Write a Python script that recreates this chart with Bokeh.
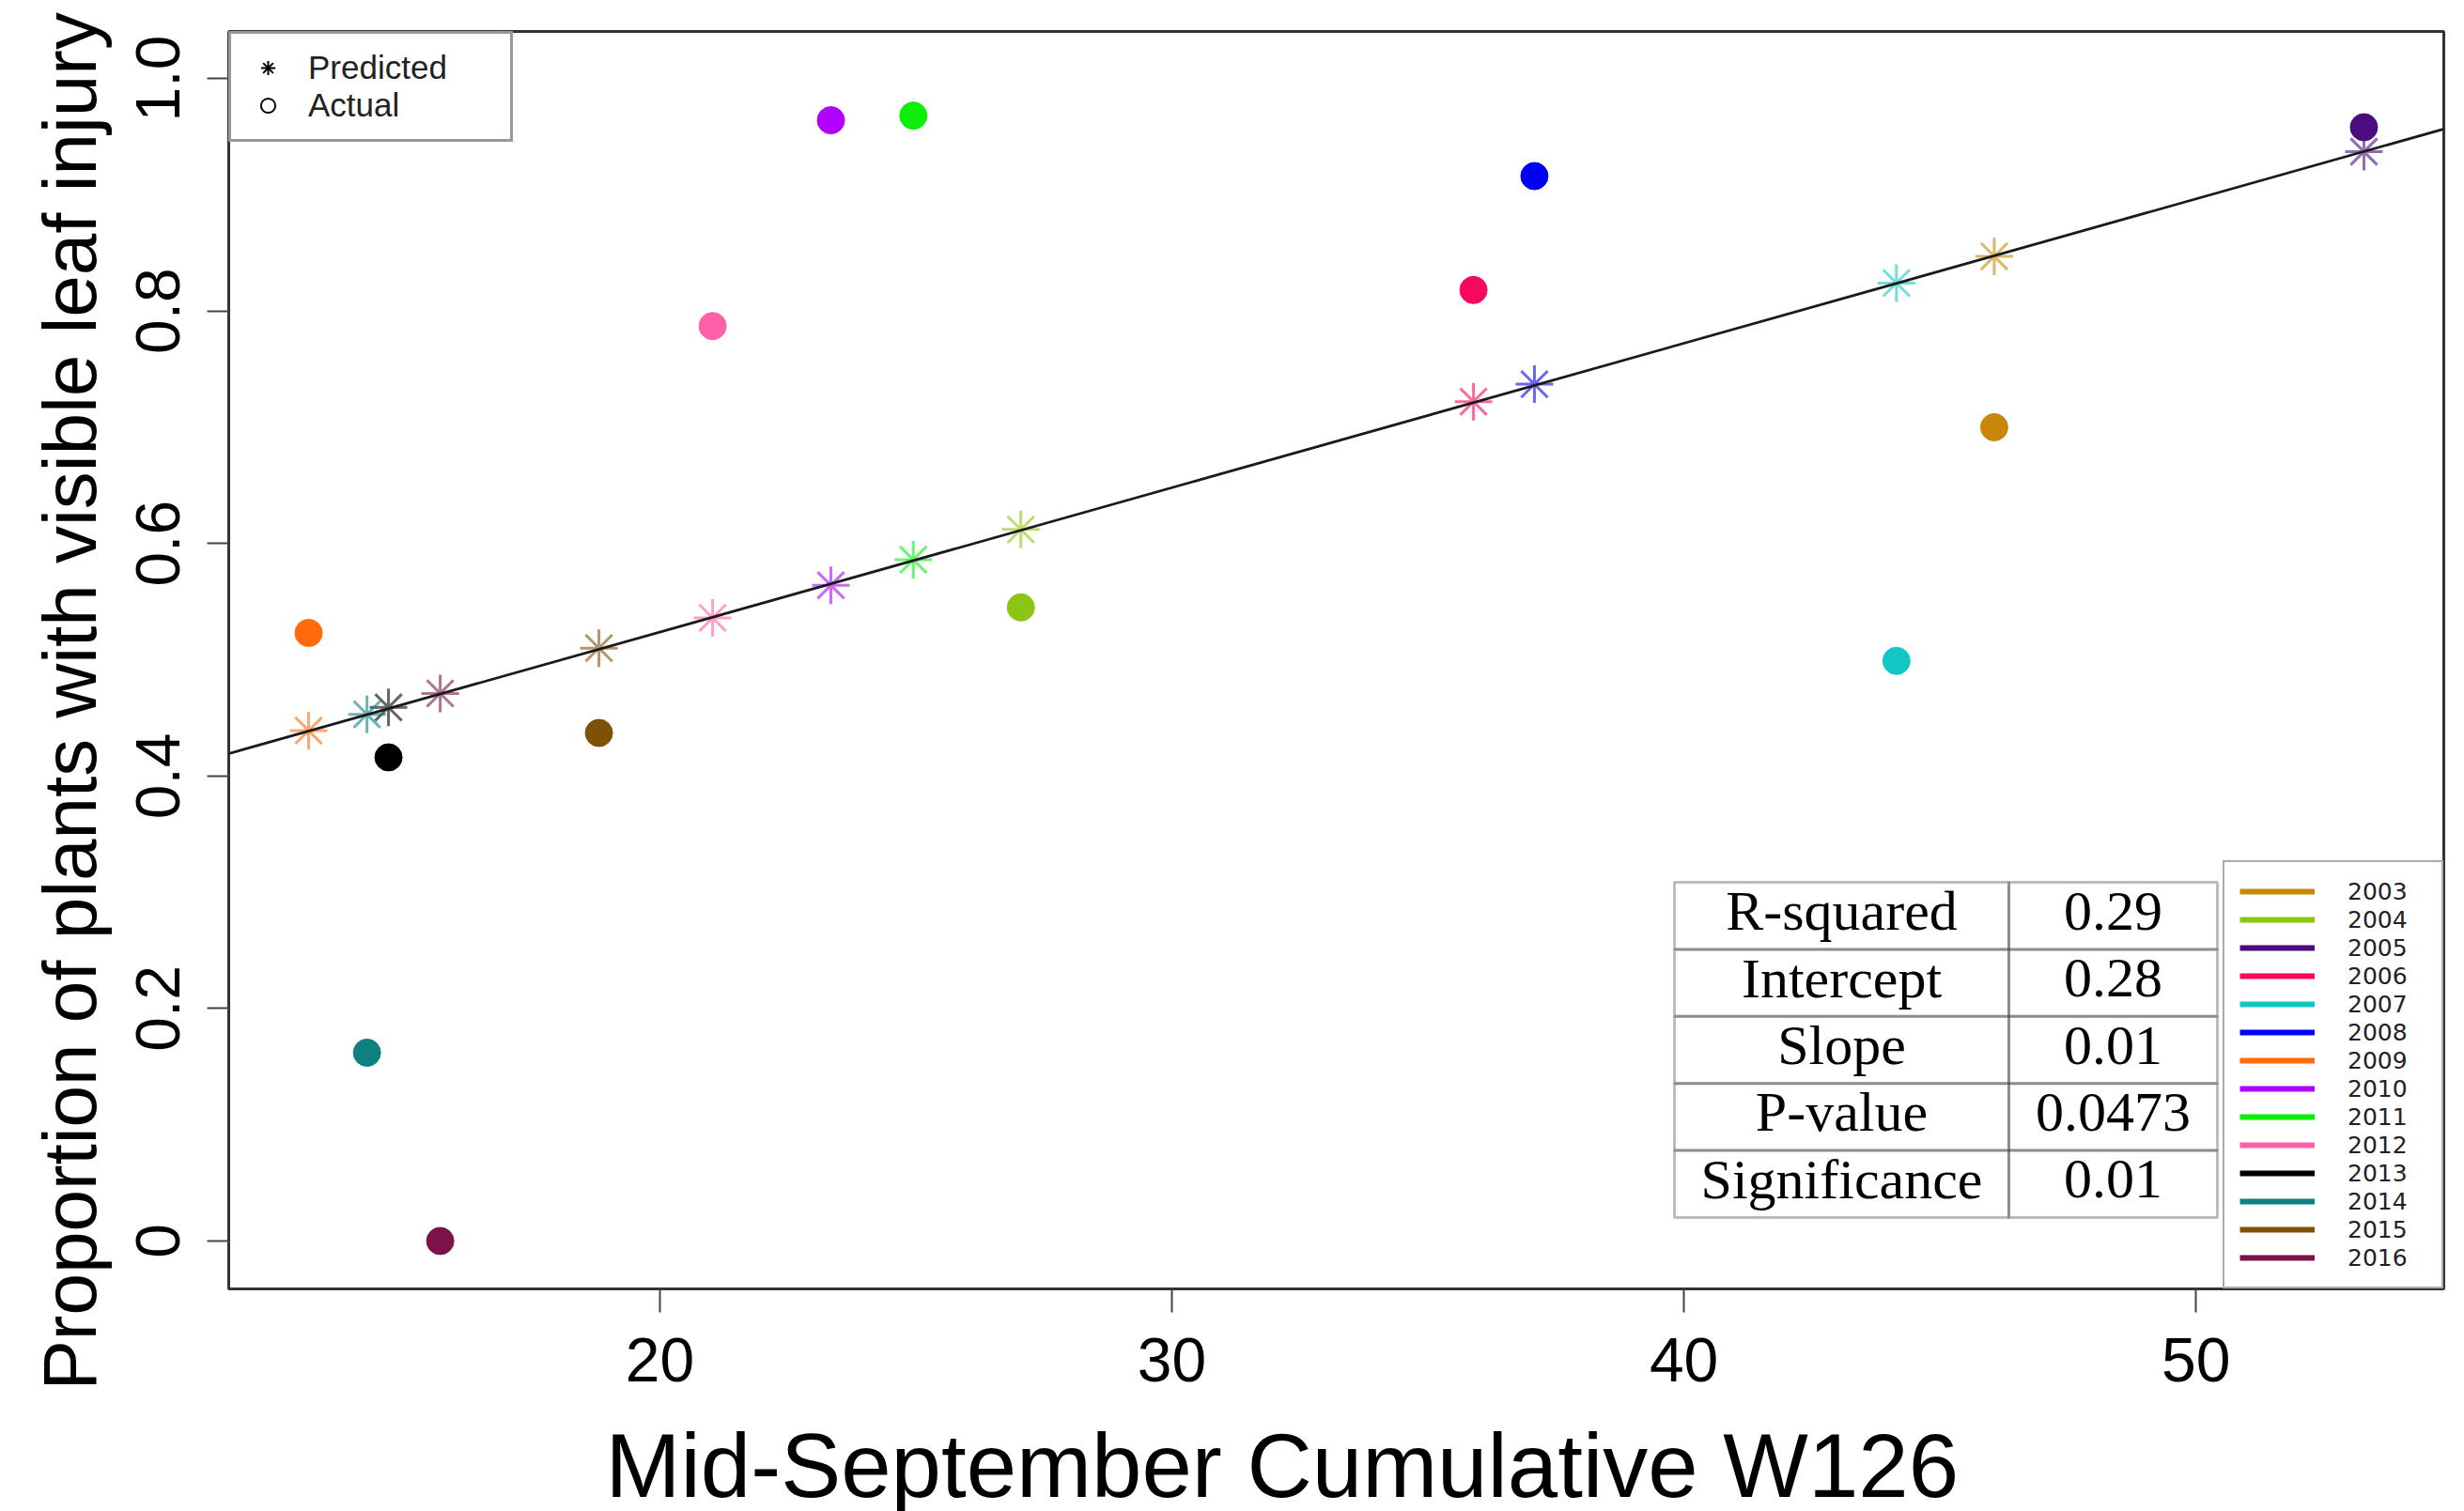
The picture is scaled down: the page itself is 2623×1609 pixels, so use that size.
from bokeh.plotting import figure
from bokeh.models import (Range1d, FixedTicker, Slope, Legend, LegendItem, Label,
                          BoxAnnotation, ColumnDataSource, Title)
from bokeh.embed import file_html
from bokeh.resources import INLINE

# ---------------- data ----------------
years = [2003, 2004, 2005, 2006, 2007, 2008, 2009, 2010, 2011, 2012, 2013, 2014, 2015, 2016]
w126 = [46.06, 27.05, 53.28, 35.89, 44.15, 37.08, 13.14, 23.34, 24.95, 21.03, 14.70, 14.28, 18.81, 15.71]
predicted = [0.847, 0.612, 0.937, 0.722, 0.824, 0.737, 0.439, 0.564, 0.586, 0.536, 0.459, 0.453, 0.510, 0.471]
actual = [0.700, 0.545, 0.958, 0.818, 0.499, 0.916, 0.523, 0.964, 0.968, 0.787, 0.416, 0.162, 0.437, 0.000]
year_colors = ["#C8870A", "#8CC614", "#4A0C7E", "#F5095F", "#12C6C6", "#0000F5", "#FF6A0A",
               "#B000FF", "#0AEE0A", "#FF60A8", "#000000", "#0E8080", "#7F5008", "#7A1448"]
fit_intercept = 0.2754
fit_slope = 0.01242
x_ticks = [20, 30, 40, 50]
y_ticks = [0, 0.2, 0.4, 0.6, 0.8, 1.0]
y_tick_labels = ["0", "0.2", "0.4", "0.6", "0.8", "1.0"]
stat_names = ["R-squared", "Intercept", "Slope", "P-value", "Significance"]
stat_values = ["0.29", "0.28", "0.01", "0.0473", "0.01"]
x_title = "Mid-September Cumulative W126"
y_title = "Proportion of plants with visible leaf injury"

# ---------------- layout ----------------
FL, FT, FW, FH = 243, 33, 2358, 1339
SANS = "Liberation Sans"
SERIF = "Liberation Serif"

p = figure(frame_width=FW, frame_height=FH, min_border_left=FL, min_border_top=FT,
           min_border_right=22, min_border_bottom=230,
           x_range=Range1d(11.58, 54.84), y_range=Range1d(-0.0412, 1.0404),
           output_backend="svg", toolbar_location=None)
p.background_fill_color = "white"
p.border_fill_color = "white"
p.xgrid.visible = False
p.ygrid.visible = False
p.outline_line_color = "#333333"
p.outline_line_width = 3

for ax in (p.xaxis[0], p.yaxis[0]):
    ax.axis_line_color = None
    ax.major_tick_in = 0
    ax.minor_tick_in = 0
    ax.minor_tick_out = 0
    ax.major_tick_line_color = "#444444"
    ax.major_tick_line_width = 2
    ax.major_label_text_font = SANS
    ax.major_label_text_font_size = "66px"
    ax.major_label_text_color = "black"

xa = p.xaxis[0]
xa.ticker = FixedTicker(ticks=x_ticks)
xa.major_tick_out = 25
xa.major_label_standoff = 27

ya = p.yaxis[0]
ya.ticker = FixedTicker(ticks=y_ticks)
ya.major_label_overrides = dict(zip(y_ticks, y_tick_labels))
ya.major_label_orientation = "vertical"
ya.major_tick_out = 23
ya.major_label_standoff = 29

# axis titles as side titles (left-aligned with an offset, as in the original)
p.add_layout(Title(text=x_title, align="left", offset=401, standoff=62,
                   text_font=SANS, text_font_size="96px", text_font_style="normal",
                   text_color="black"), "below")
p.add_layout(Title(text=y_title, align="left", offset=-108, standoff=48, vertical_align="bottom",
                   text_font=SANS, text_font_size="80px", text_font_style="normal",
                   text_color="black"), "left")

# ---------------- glyphs ----------------
src = ColumnDataSource(dict(w=w126, pred=predicted, act=actual, color=year_colors,
                            year=[str(y) for y in years]))

p.scatter(x="w", y="pred", source=src, marker="asterisk", size=40,
          line_color="color", line_width=3, line_alpha=0.6)
p.scatter(x="w", y="act", source=src, marker="circle", size=29,
          fill_color="color", line_color="color", line_width=1)
p.add_layout(Slope(gradient=fit_slope, y_intercept=fit_intercept,
                   line_color="#1a1a1a", line_width=2.8))

# hidden renderers used as legend keys
seg = p.segment(x0="w", y0="pred", x1="w", y1="act", source=src,
                line_color="color", line_width=6, visible=False)
r_pk = p.scatter(x="w", y="pred", source=src, marker="asterisk", size=20,
                 line_color="black", line_width=2, visible=False)
r_ak = p.scatter(x="w", y="act", source=src, marker="circle", size=15,
                 fill_color=None, line_color="black", line_width=2, visible=False)

leg1 = Legend(items=[LegendItem(label="Predicted", renderers=[r_pk]),
                     LegendItem(label="Actual", renderers=[r_ak])],
              location="top_left", margin=0, padding=16, spacing=0,
              glyph_width=46, glyph_height=38, label_height=38,
              label_standoff=20, label_width=199,
              label_text_font=SANS, label_text_font_size="35px", label_text_color="#222222",
              border_line_color="#333333", border_line_width=3,
              background_fill_color="white", background_fill_alpha=1)
p.add_layout(leg1)

leg2 = Legend(items=[LegendItem(label=str(y), renderers=[seg], index=i) for i, y in enumerate(years)],
              location="bottom_right", margin=0, padding=16, spacing=0,
              glyph_width=80, glyph_height=30, label_height=30,
              label_standoff=35, label_width=84,
              label_text_font="DejaVu Sans", label_text_font_size="25px", label_text_color="#222222",
              border_line_color="#555555", border_line_width=2,
              background_fill_color="white", background_fill_alpha=1)
p.add_layout(leg2)

# ---------------- statistics table ----------------
FB = FT + FH
tab_left, tab_mid, tab_right = 1782, 2138, 2360
tab_top, row_h = 939, 71.4
for i, (name, val) in enumerate(zip(stat_names, stat_values)):
    top = tab_top + i * row_h
    bot = top + row_h
    for l, r in ((tab_left, tab_mid), (tab_mid, tab_right)):
        p.add_layout(BoxAnnotation(left=l - FL, right=r - FL, top=FB - top, bottom=FB - bot,
                                   left_units="screen", right_units="screen",
                                   top_units="screen", bottom_units="screen",
                                   fill_alpha=0, line_color="#222222", line_width=3))
    base = top + row_h / 2 - 5
    p.add_layout(Label(x=(tab_left + tab_mid) / 2 - FL, y=FB - base, x_units="screen", y_units="screen",
                       text=name, text_align="center", text_baseline="alphabetic",
                       text_font=SERIF, text_font_size="60px", text_color="black"))
    p.add_layout(Label(x=(tab_mid + tab_right) / 2 - FL, y=FB - base, x_units="screen", y_units="screen",
                       text=val, text_align="center", text_baseline="alphabetic",
                       text_font=SERIF, text_font_size="60px", text_color="black"))

open("out.html", "w").write(file_html(p, INLINE))
